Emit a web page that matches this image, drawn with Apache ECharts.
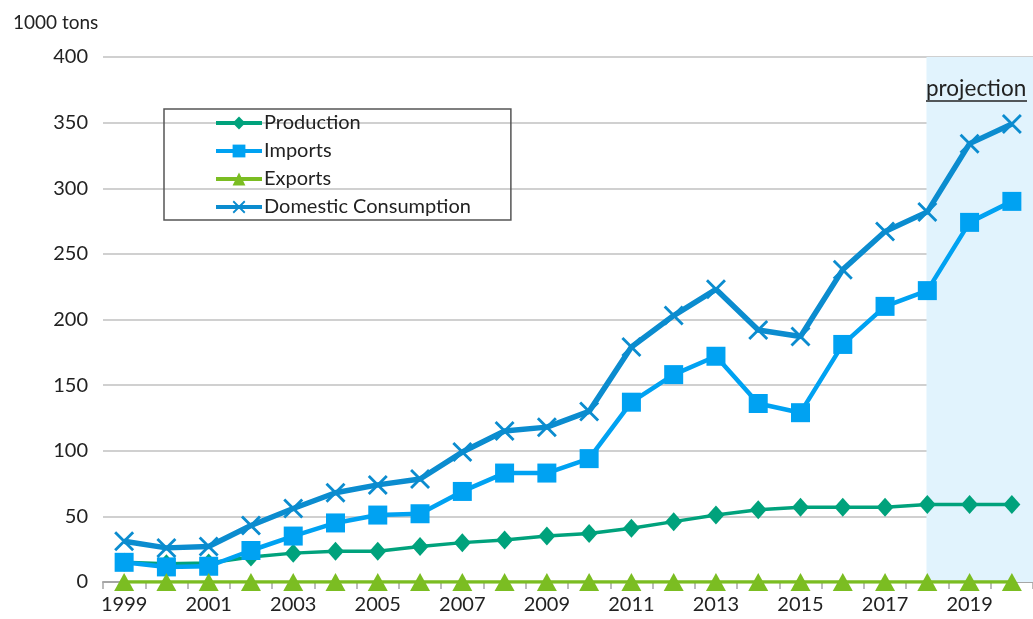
<!DOCTYPE html>
<html><head><meta charset="utf-8">
<script src="https://cdn.jsdelivr.net/npm/echarts@6/dist/echarts.min.js"></script>
<style>html,body{margin:0;padding:0;background:#fff}#c{width:1033px;height:619px}</style>
</head><body><div id="c"></div>
<script>
const years = ['1999','2000','2001','2002','2003','2004','2005','2006','2007','2008','2009','2010','2011','2012','2013','2014','2015','2016','2017','2018','2019','2020'];
const production = [15,14,14.5,19,22,23.5,23.5,27,30,32,35,37,41,46,51,55,57,57,57,59,59,59];
const imports = [15,11.5,12,24,35,45,51,52,69,83,83,94,137,158,172,136,129,181,210,222,274,290];
const exportsData = [0,0,0,0,0,0,0,0,0,0,0,0,0,0,0,0,0,0,0,0,0,0];
const consumption = [31,26,27,43,56,68,74,78.5,99,115,118,130,179,203,223,192,187,238,267,282,334,349];
const yTicks = {min:0, max:400, interval:50};
const projectionStart = 18.98; // position on band axis (index units)
const projectionEnd = 21.5;

const FONT = 'Lato';
const crossPath = 'path://M0,1 L1,0 L10,9 L9,10 Z M9,0 L10,1 L1,10 L0,9 Z';

const chart = echarts.init(document.getElementById('c'));
chart.setOption({
  animation:false,
  textStyle:{fontFamily:FONT},
  title:{text:'1000 tons', left:8, top:8, textStyle:{fontFamily:FONT, fontSize:19, fontWeight:'normal', color:'#222'}},
  grid:{left:103, right:-5, top:57, bottom:37},
  legend:{
    orient:'vertical', left:164, top:109,
    padding:[4,40,3,50],
    borderColor:'#555', borderWidth:1.5,
    itemWidth:46, itemHeight:16, itemGap:8,
    lineStyle:{width:4},
    textStyle:{fontFamily:FONT, fontSize:20, color:'#222', padding:[0,0,0,-3]},
    data:['Production','Imports','Exports','Domestic Consumption']
  },
  xAxis:[{
    type:'category', data:years, boundaryGap:true,
    axisLine:{lineStyle:{color:'#a6a6a6', width:2}},
    axisTick:{show:true, interval:0, length:7, lineStyle:{color:'#a6a6a6', width:1.5}},
    axisLabel:{interval:1, margin:13, fontFamily:FONT, fontSize:20, color:'#222'}
  },{
    type:'value', min:-0.5, max:21.5, show:false
  }],
  yAxis:{
    type:'value', min:yTicks.min, max:yTicks.max, interval:yTicks.interval,
    axisLine:{show:false}, axisTick:{show:false},
    axisLabel:{margin:15, fontFamily:FONT, fontSize:20, color:'#222'},
    splitLine:{lineStyle:{color:'#c0c0c0', width:1.5}}
  },
  graphic:[
    {type:'text', z:100, left:926, top:77, style:{text:'projection', font:'22.5px '+FONT, fill:'#222'}},
    {type:'line', z:100, shape:{x1:926, y1:101, x2:1027, y2:101}, style:{stroke:'#222', lineWidth:1.4}}
  ],
  series:[
    {name:'projection-area', type:'line', xAxisIndex:1, data:[[projectionEnd,0]], showSymbol:false, symbol:'none',
      lineStyle:{opacity:0}, silent:true, z:0,
      markArea:{silent:true, itemStyle:{color:'#e1f3fd'}, data:[[{xAxis:projectionStart},{xAxis:projectionEnd}]]}},
    {name:'Production', type:'line', data:production, symbol:'diamond', symbolSize:[17,19],
      color:'#00a27c', lineStyle:{width:3.5, color:'#00a27c'}, itemStyle:{color:'#00a27c'}},
    {name:'Imports', type:'line', data:imports, symbol:'rect', symbolSize:19,
      color:'#00a2f2', lineStyle:{width:4.5, color:'#00a2f2'}, itemStyle:{color:'#00a2f2'}},
    {name:'Exports', type:'line', data:exportsData, symbol:'triangle', symbolSize:[20,18],
      color:'#7bbd22', lineStyle:{width:3.5, color:'#7bbd22'}, itemStyle:{color:'#7bbd22'}},
    {name:'Domestic Consumption', type:'line', data:consumption, symbol:crossPath, symbolSize:20,
      color:'#0b8ccf', lineStyle:{width:5.5, color:'#0b8ccf'}, itemStyle:{color:'#0b8ccf'}}
  ]
});
</script></body></html>
